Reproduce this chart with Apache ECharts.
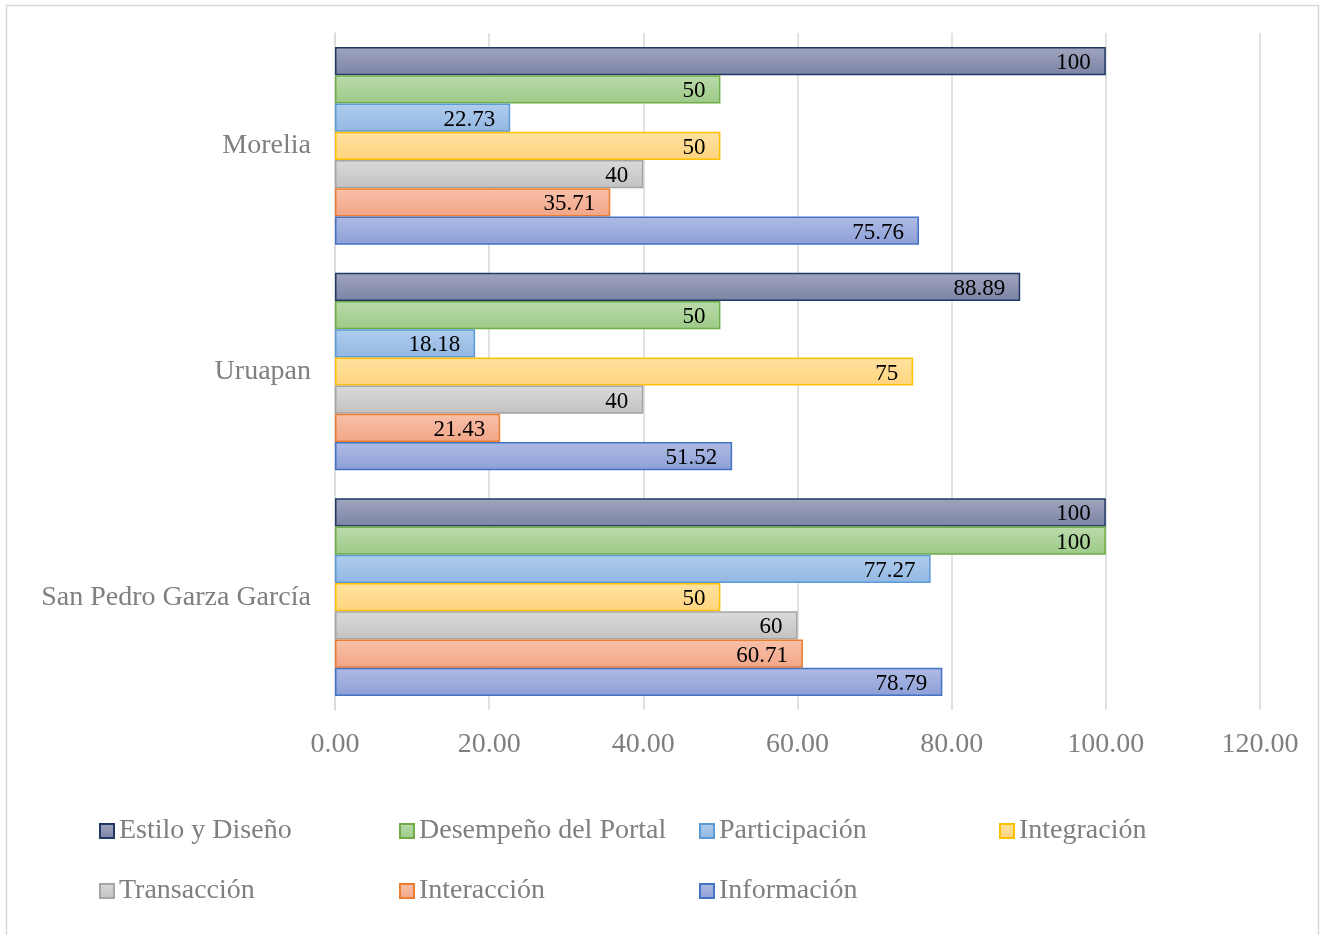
<!DOCTYPE html>
<html>
<head>
<meta charset="utf-8">
<script src="https://cdn.jsdelivr.net/npm/echarts@6/dist/echarts.min.js"></script>
<style>
html,body{margin:0;padding:0;background:#fff;}
#chart{width:1325px;height:935px;}
</style>
</head>
<body>
<div id="chart"></div>
<script>
// categories bottom -> top
const categories = ['San Pedro Garza García', 'Uruapan', 'Morelia'];
// series order (top -> bottom within a group)
const seriesNames = ['Estilo y Diseño', 'Desempeño del Portal', 'Participación', 'Integración', 'Transacción', 'Interacción', 'Información'];
const estilo        = [100, 88.89, 100];
const desempeno     = [100, 50, 50];
const participacion = [77.27, 18.18, 22.73];
const integracion   = [50, 75, 50];
const transaccion   = [60, 40, 40];
const interaccion   = [60.71, 21.43, 35.71];
const informacion   = [78.79, 51.52, 75.76];
const xTicks = [0, 20, 40, 60, 80, 100, 120];

const values = [estilo, desempeno, participacion, integracion, transaccion, interaccion, informacion];
const styles = [
  {top:'#a0a5bd', bot:'#7c84a6', border:'#203864'},
  {top:'#badbab', bot:'#9dca87', border:'#70ad47'},
  {top:'#b0cdee', bot:'#92b7e2', border:'#5b9bd5'},
  {top:'#ffe2a0', bot:'#ffd47e', border:'#ffc000'},
  {top:'#dadada', bot:'#c2c2c2', border:'#a5a5a5'},
  {top:'#f8c1aa', bot:'#f2a587', border:'#ed7d31'},
  {top:'#aebbe3', bot:'#8d9fd8', border:'#4472c4'}
];

const series = seriesNames.map((n, i) => ({
  name: n,
  type: 'bar',
  data: values[i],
  barGap: '0%',
  barCategoryGap: '12.4%',
  itemStyle: {
    color: new echarts.graphic.LinearGradient(0, 0, 0, 1, [
      {offset: 0, color: styles[i].top}, {offset: 1, color: styles[i].bot}
    ]),
    borderColor: styles[i].border,
    borderWidth: 1.5
  },
  label: {
    show: true,
    position: 'insideRight',
    distance: 15,
    offset: [0, 2],
    color: '#000',
    fontFamily: 'Liberation Serif',
    fontSize: 23,
    formatter: p => String(p.value)
  }
}));

const legendPos = [[99, 817], [399, 817], [699, 817], [999, 817], [99, 877], [399, 877], [699, 877]];
const legends = seriesNames.map((n, i) => ({
  data: [n],
  left: legendPos[i][0],
  top: legendPos[i][1],
  itemWidth: 14,
  itemHeight: 14,
  padding: 0,
  icon: 'rect',
  selectedMode: false,
  textStyle: {fontFamily: 'Liberation Serif', fontSize: 28, color: '#7f7f7f'}
}));

const chart = echarts.init(document.getElementById('chart'));
chart.setOption({
  animation: false,
  backgroundColor: '#fff',
  graphic: [{type: 'rect', shape: {x: 6.5, y: 5.5, width: 1312, height: 940}, style: {fill: 'none', stroke: '#d9d9d9', lineWidth: 1.5}, silent: true}],
  legend: legends,
  grid: {left: 335, right: 65, top: 33, bottom: 225, containLabel: false},
  xAxis: {
    type: 'value', min: 0, max: 120, interval: 20,
    axisLine: {show: false}, axisTick: {show: false},
    splitLine: {show: true, lineStyle: {color: '#d9d9d9', width: 1.5}},
    axisLabel: {margin: 21, fontFamily: 'Liberation Serif', fontSize: 28, color: '#7f7f7f', formatter: v => xTicks.includes(v) ? v.toFixed(2) : ''}
  },
  yAxis: {
    type: 'category', data: categories,
    axisLine: {show: true, lineStyle: {color: '#d9d9d9', width: 1.5}},
    axisTick: {show: false},
    axisLabel: {margin: 24, fontFamily: 'Liberation Serif', fontSize: 28, color: '#7f7f7f', padding: [6, 0, 0, 0]}
  },
  series: series
});
</script>
</body>
</html>
